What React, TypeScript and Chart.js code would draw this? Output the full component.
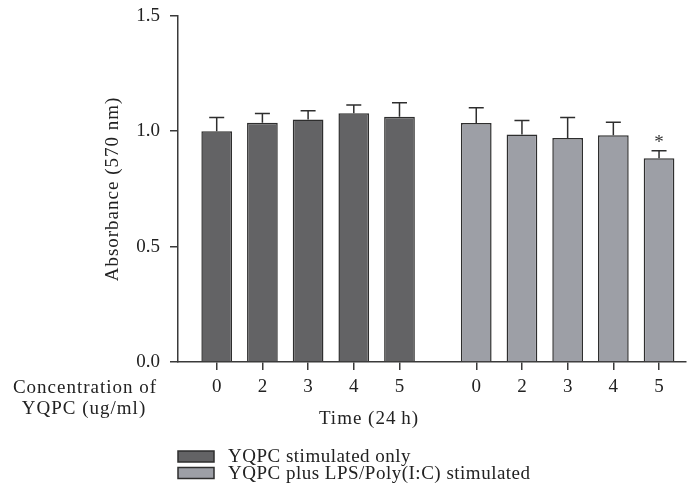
import React, { useEffect, useRef } from 'react';
import { Chart, registerables } from 'chart.js';

Chart.register(...registerables);

const FONT = '"Liberation Serif", "Times New Roman", serif';

// Data
const concentrationLabels = ['0', '2', '3', '4', '5'];
const stimulatedOnly = [1.0, 1.036, 1.05, 1.078, 1.062];
const stimulatedOnlyErr = [0.059, 0.04, 0.038, 0.035, 0.061];
const lpsStimulated = [1.035, 0.985, 0.97, 0.982, 0.883];
const lpsStimulatedErr = [0.066, 0.061, 0.089, 0.057, 0.032];
const lpsSignificance = ['', '', '', '', '*'];
const seriesNames = ['YQPC stimulated only', 'YQPC plus LPS/Poly(I:C) stimulated'];
const yTickValues = [0, 0.5, 1.0, 1.5];

const GROUP_OFFSET = 5.68;
const COLORS = ['#636365', '#9d9fa6'];
const BORDER = '#2e2e2e';
const AXIS = '#3a3a3a';
const TEXT = '#222';

const posA = concentrationLabels.map((_, i) => i);
const posB = concentrationLabels.map((_, i) => i + GROUP_OFFSET);
const allPos = [...posA, ...posB];
const allLabels = [...concentrationLabels, ...concentrationLabels];

const errors = [stimulatedOnlyErr, lpsStimulatedErr];
const marks = [concentrationLabels.map(() => ''), lpsSignificance];

const extrasPlugin = {
  id: 'extras',
  afterDatasetsDraw(chart: any) {
    const ctx = chart.ctx;
    const yScale = chart.scales.y;
    ctx.save();
    chart.data.datasets.forEach((ds: any, di: number) => {
      const meta = chart.getDatasetMeta(di);
      meta.data.forEach((el: any, i: number) => {
        const v = ds.data[i].y;
        const top = yScale.getPixelForValue(v + errors[di][i]);
        ctx.strokeStyle = BORDER;
        ctx.lineWidth = 1.5;
        ctx.beginPath();
        ctx.moveTo(el.x, el.y);
        ctx.lineTo(el.x, top);
        ctx.moveTo(el.x - 7.5, top);
        ctx.lineTo(el.x + 7.5, top);
        ctx.stroke();
        const m = marks[di][i];
        if (m) {
          ctx.fillStyle = '#333';
          ctx.font = `19px ${FONT}`;
          ctx.textAlign = 'center';
          ctx.textBaseline = 'middle';
          ctx.fillText(m, el.x, top - 8);
        }
      });
    });
    ctx.restore();
  },
  afterDraw(chart: any) {
    const ctx = chart.ctx;
    ctx.save();
    ctx.fillStyle = TEXT;
    ctx.font = `19px ${FONT}`;
    (ctx as any).letterSpacing = '1px';
    ctx.textBaseline = 'alphabetic';
    // Y title
    ctx.save();
    ctx.translate(118, 189);
    ctx.rotate(-Math.PI / 2);
    ctx.textAlign = 'center';
    ctx.fillText('Absorbance (570 nm)', 0, 0);
    ctx.restore();
    ctx.textAlign = 'center';
    ctx.fillText('Concentration of', 85, 393);
    ctx.fillText('YQPC (ug/ml)', 84, 413.5);
    ctx.fillText('Time (24\u2009h)', 369, 424);
    // Legend
    (ctx as any).letterSpacing = '0.5px';
    seriesNames.forEach((name, i) => {
      const y = 451 + i * 16.5;
      ctx.fillStyle = COLORS[i];
      ctx.fillRect(178, y, 36, 11);
      ctx.strokeStyle = BORDER;
      ctx.lineWidth = 1.5;
      ctx.strokeRect(178, y, 36, 11);
      ctx.fillStyle = TEXT;
      ctx.textAlign = 'left';
      ctx.fillText(name, 228, y + 11);
    });
    ctx.restore();
  },
};

export default function App() {
  const ref = useRef<HTMLCanvasElement>(null);
  useEffect(() => {
    document.body.style.margin = '0';
    const chart = new Chart(ref.current!, {
      type: 'bar',
      data: {
        datasets: [
          {
            label: seriesNames[0],
            data: stimulatedOnly.map((v, i) => ({ x: posA[i], y: v })),
            backgroundColor: COLORS[0],
            borderColor: BORDER,
            borderWidth: 1.5,
            grouped: false,
            barPercentage: 0.672,
            categoryPercentage: 1,
          },
          {
            label: seriesNames[1],
            data: lpsStimulated.map((v, i) => ({ x: posB[i], y: v })),
            backgroundColor: COLORS[1],
            borderColor: BORDER,
            borderWidth: 1.5,
            grouped: false,
            barPercentage: 0.672,
            categoryPercentage: 1,
          },
        ] as any,
      },
      options: {
        animation: false,
        responsive: false,
        devicePixelRatio: 1,
        layout: { padding: { left: 0, top: 0, right: 1, bottom: 0 } },
        plugins: { legend: { display: false }, tooltip: { enabled: false } },
        scales: {
          x: {
            type: 'linear',
            min: -0.847,
            max: 10.27,
            offset: false,
            grid: {
              offset: false,
              drawOnChartArea: false,
              drawTicks: true,
              tickLength: 8,
              color: AXIS,
              lineWidth: 1.5,
            },
            border: { display: true, color: AXIS, width: 1.5 },
            afterBuildTicks: (s: any) => {
              s.ticks = allPos.map((v) => ({ value: v }));
            },
            afterFit: (s: any) => {
              s.height = 138;
            },
            ticks: {
              autoSkip: false,
              maxRotation: 0,
              padding: 6,
              color: TEXT,
              font: { family: FONT, size: 19 },
              callback: (_v: any, i: number) => allLabels[i],
            },
          },
          y: {
            min: 0,
            max: 1.5,
            afterBuildTicks: (s: any) => {
              s.ticks = yTickValues.map((v) => ({ value: v }));
            },
            afterFit: (s: any) => {
              s.width = 178;
            },
            grid: {
              drawOnChartArea: false,
              drawTicks: true,
              tickLength: 8,
              color: AXIS,
              lineWidth: 1.5,
            },
            border: { display: true, color: AXIS, width: 1.5 },
            ticks: {
              padding: 10,
              color: TEXT,
              font: { family: FONT, size: 19, lineHeight: 0.6 },
              callback: (v: any) => Number(v).toFixed(1),
            },
          },
        },
      } as any,
      plugins: [extrasPlugin],
    });
    return () => chart.destroy();
  }, []);
  return (
    <div style={{ position: 'fixed', left: 0, top: 0, width: 687, height: 500 }}>
      <canvas ref={ref} width={687} height={500} />
    </div>
  );
}
